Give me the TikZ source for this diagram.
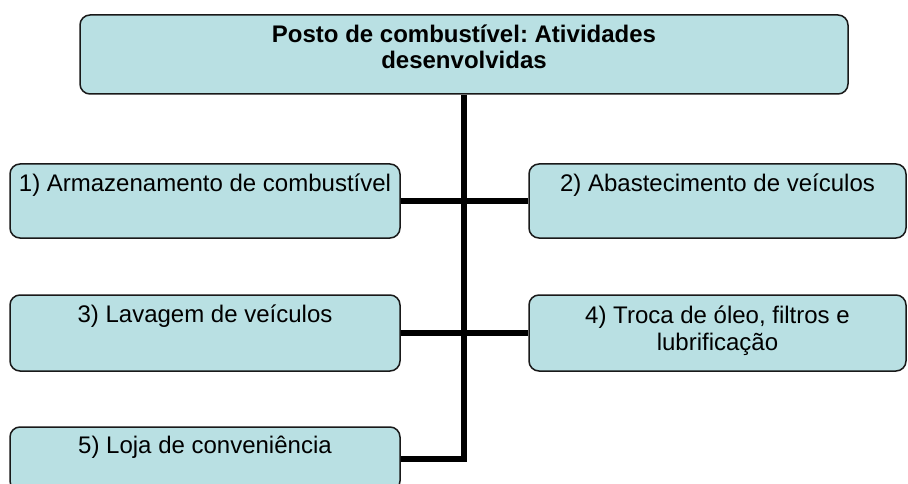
\documentclass[tikz,border=0pt]{standalone}
\usepackage{fontspec}
\setmainfont{Liberation Sans}
\usepackage{xcolor}
\usepackage{tikz}
\definecolor{boxfill}{RGB}{185,224,227}
\frenchspacing

\begin{document}
\begin{tikzpicture}[x=1pt, y=-1pt,
    every node/.style={font=\fontsize{24}{27}\selectfont},
    box/.style={rectangle, rounded corners=10pt, draw=black!90, line width=1.5pt, fill=boxfill, inner sep=0pt},
    lbl/.style={anchor=base, align=center, inner sep=0pt},
    conn/.style={line width=6pt, line join=miter}]
    \clip (0,0) rectangle (908,484);
    \node (top) [box, minimum width=768pt, minimum height=79pt] at (464,54.5) {};
    \node (b1) [box, minimum width=390pt, minimum height=74pt] at (205,201) {};
    \node (b2) [box, minimum width=377pt, minimum height=74pt] at (717.5,201) {};
    \node (b3) [box, minimum width=390pt, minimum height=76pt] at (205,333) {};
    \node (b4) [box, minimum width=377pt, minimum height=76pt] at (717.5,333) {};
    \node (b5) [box, minimum width=390pt, minimum height=64pt] at (205,459) {};

    % base of a two-line text sits on its last line
    \node (ttop) [lbl, font=\fontsize{24}{26}\selectfont\bfseries] at ([yshift=-54pt]top.north) {Posto de combustível: Atividades\\desenvolvidas};
    \node (t1) [lbl] at ([yshift=-28pt]b1.north) {1) Armazenamento de combustível};
    \node (t2) [lbl] at ([yshift=-28pt]b2.north) {2) Abastecimento de veículos};
    \node (t3) [lbl] at ([yshift=-28pt]b3.north) {3) Lavagem de veículos};
    \node (t4) [lbl] at ([yshift=-56pt]b4.north) {4) Troca de óleo, filtros e\\lubrificação};
    \node (t5) [lbl] at ([yshift=-27pt]b5.north) {5) Loja de conveniência};

    \draw[conn] (top.south) |- (b5.east);
    \draw[conn] (b1.east) -- (b2.west);
    \draw[conn] (b3.east) -- (b4.west);
\end{tikzpicture}
\end{document}
